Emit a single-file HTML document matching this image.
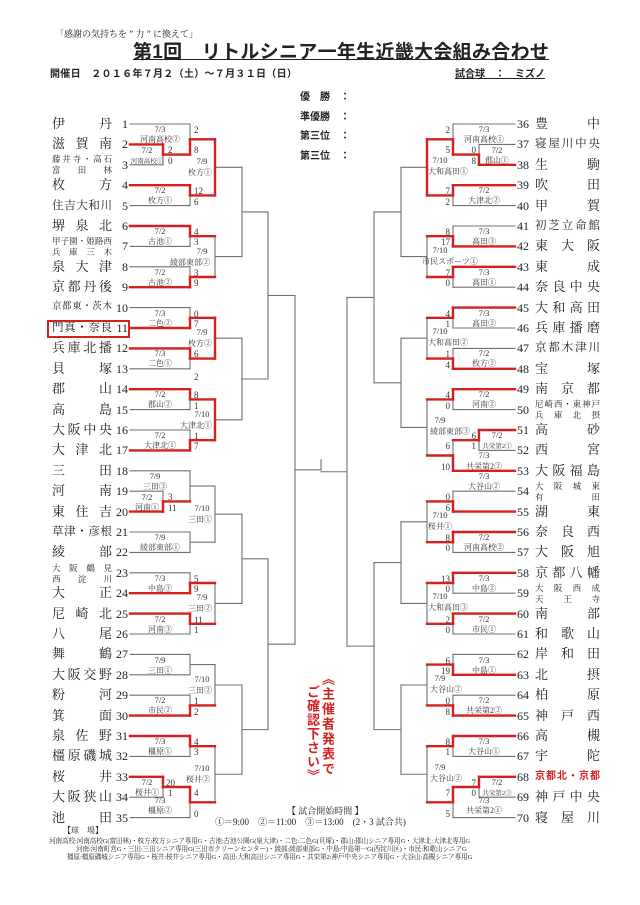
<!DOCTYPE html>
<html><head><meta charset="utf-8">
<style>
body{margin:0;background:#fff;}
#w{position:relative;width:640px;height:905px;overflow:hidden;background:#fff;font-family:"Liberation Serif","Noto Serif CJK SC",serif;color:#222;}
.a{position:absolute;white-space:nowrap;}
.n{position:absolute;width:60px;height:16px;font-size:13px;line-height:16px;text-align:justify;text-align-last:justify;white-space:nowrap;overflow:visible;}
.f5{font-size:11.5px;}
.n2{position:absolute;width:60px;font-size:8.5px;line-height:11px;text-align:justify;text-align-last:justify;}
.rn{left:535px;width:65px;}
.num{position:absolute;font-size:12px;line-height:16px;}
.ln{left:108px;width:20px;text-align:right;}
.rnum{left:517px;}
svg text{font-family:"Liberation Serif","Noto Serif CJK SC",serif;fill:#333;}
.d{font-size:8.5px;text-anchor:middle;}
.v{font-size:8px;text-anchor:middle;}
.vs{font-size:6.5px;text-anchor:middle;}
.s{font-size:9px;}
.se{font-size:9px;text-anchor:end;}
.g{font-family:"Liberation Sans","Noto Sans CJK JP",sans-serif;}
</style></head><body><div id="w">
<div class="a" style="left:55px;top:27px;font-size:9px;">「感謝の気持ちを ” 力 ” に換えて」</div>
<div class="a g" style="left:133px;top:37px;font-size:19px;font-weight:bold;text-decoration:underline;letter-spacing:0.3px;">第1回　リトルシニア一年生近畿大会組み合わせ</div>
<div class="a g" style="left:50px;top:65px;font-size:10px;font-weight:bold;letter-spacing:0.3px;">開催日　２０１６年７月２（土）～７月３１日（日）</div>
<div class="a g" style="left:455px;top:65px;font-size:10px;font-weight:bold;text-decoration:underline;">試合球　：　ミズノ</div>
<div class="a g" style="left:300px;top:88px;font-size:10px;font-weight:bold;">優　勝　：</div>
<div class="a g" style="left:300px;top:108px;font-size:10px;font-weight:bold;">準優勝　：</div>
<div class="a g" style="left:300px;top:127px;font-size:10px;font-weight:bold;">第三位　：</div>
<div class="a g" style="left:300px;top:147px;font-size:10px;font-weight:bold;">第三位　：</div>

<!-- left names -->
<div class="n" style="left:52px;top:116px">伊丹</div><div class="num ln" style="top:116px">1</div>
<div class="n" style="left:52px;top:136px">滋賀南</div><div class="num ln" style="top:136px">2</div>
<div class="n2" style="left:52px;top:154px">藤井寺・高石<br>富田林</div><div class="num ln" style="top:157px">3</div>
<div class="n" style="left:52px;top:177px">枚方</div><div class="num ln" style="top:177px">4</div>
<div class="n f5" style="left:52px;top:198px">住吉大和川</div><div class="num ln" style="top:198px">5</div>
<div class="n" style="left:52px;top:218px">堺泉北</div><div class="num ln" style="top:218px">6</div>
<div class="n2" style="left:52px;top:236px">甲子園・姫路西<br>兵庫三木</div><div class="num ln" style="top:238px">7</div>
<div class="n" style="left:52px;top:259px">泉大津</div><div class="num ln" style="top:259px">8</div>
<div class="n" style="left:52px;top:279px">京都丹後</div><div class="num ln" style="top:279px">9</div>
<div class="n2" style="left:52px;top:302px;font-size:9.5px">京都東・茨木</div><div class="num ln" style="top:300px">10</div>
<div class="n f5" style="left:52px;top:320px">門真・奈良</div><div class="num ln" style="top:320px">11</div>
<div class="a" style="left:47px;top:320px;width:79px;height:14px;border:2px solid #d52020;"></div>
<div class="n" style="left:52px;top:340px">兵庫北播</div><div class="num ln" style="top:340px">12</div>
<div class="n" style="left:52px;top:361px">貝塚</div><div class="num ln" style="top:361px">13</div>
<div class="n" style="left:52px;top:381px">郡山</div><div class="num ln" style="top:381px">14</div>
<div class="n" style="left:52px;top:402px">高島</div><div class="num ln" style="top:402px">15</div>
<div class="n" style="left:52px;top:422px">大阪中央</div><div class="num ln" style="top:422px">16</div>
<div class="n" style="left:52px;top:442px">大津北</div><div class="num ln" style="top:442px">17</div>
<div class="n" style="left:52px;top:463px">三田</div><div class="num ln" style="top:463px">18</div>
<div class="n" style="left:52px;top:483px">河南</div><div class="num ln" style="top:483px">19</div>
<div class="n" style="left:52px;top:504px">東住吉</div><div class="num ln" style="top:504px">20</div>
<div class="n f5" style="left:52px;top:524px">草津・彦根</div><div class="num ln" style="top:524px">21</div>
<div class="n" style="left:52px;top:544px">綾部</div><div class="num ln" style="top:544px">22</div>
<div class="n2" style="left:52px;top:563px">大阪鶴見<br>西淀川</div><div class="num ln" style="top:565px">23</div>
<div class="n" style="left:52px;top:585px">大正</div><div class="num ln" style="top:585px">24</div>
<div class="n" style="left:52px;top:606px">尼崎北</div><div class="num ln" style="top:606px">25</div>
<div class="n" style="left:52px;top:626px">八尾</div><div class="num ln" style="top:626px">26</div>
<div class="n" style="left:52px;top:646px">舞鶴</div><div class="num ln" style="top:646px">27</div>
<div class="n" style="left:52px;top:667px">大阪交野</div><div class="num ln" style="top:667px">28</div>
<div class="n" style="left:52px;top:687px">粉河</div><div class="num ln" style="top:687px">29</div>
<div class="n" style="left:52px;top:708px">箕面</div><div class="num ln" style="top:708px">30</div>
<div class="n" style="left:52px;top:728px">泉佐野</div><div class="num ln" style="top:728px">31</div>
<div class="n" style="left:52px;top:748px">橿原磯城</div><div class="num ln" style="top:748px">32</div>
<div class="n" style="left:52px;top:769px">桜井</div><div class="num ln" style="top:769px">33</div>
<div class="n" style="left:52px;top:789px">大阪狭山</div><div class="num ln" style="top:789px">34</div>
<div class="n" style="left:52px;top:810px">池田</div><div class="num ln" style="top:810px">35</div>

<!-- right names -->
<div class="num rnum" style="top:116px">36</div><div class="n rn" style="top:116px">豊中</div>
<div class="num rnum" style="top:136px">37</div><div class="n rn f5" style="top:136px">寝屋川中央</div>
<div class="num rnum" style="top:157px">38</div><div class="n rn" style="top:157px">生駒</div>
<div class="num rnum" style="top:177px">39</div><div class="n rn" style="top:177px">吹田</div>
<div class="num rnum" style="top:198px">40</div><div class="n rn" style="top:198px">甲賀</div>
<div class="num rnum" style="top:218px">41</div><div class="n rn f5" style="top:218px">初芝立命館</div>
<div class="num rnum" style="top:238px">42</div><div class="n rn" style="top:238px">東大阪</div>
<div class="num rnum" style="top:259px">43</div><div class="n rn" style="top:259px">東成</div>
<div class="num rnum" style="top:279px">44</div><div class="n rn" style="top:279px">奈良中央</div>
<div class="num rnum" style="top:300px">45</div><div class="n rn" style="top:300px">大和高田</div>
<div class="num rnum" style="top:320px">46</div><div class="n rn" style="top:320px">兵庫播磨</div>
<div class="num rnum" style="top:340px">47</div><div class="n rn f5" style="top:340px">京都木津川</div>
<div class="num rnum" style="top:361px">48</div><div class="n rn" style="top:361px">宝塚</div>
<div class="num rnum" style="top:381px">49</div><div class="n rn" style="top:381px">南京都</div>
<div class="num rnum" style="top:402px">50</div><div class="n2 rn" style="top:399px">尼崎西・東神戸<br>兵庫北摂</div>
<div class="num rnum" style="top:422px">51</div><div class="n rn" style="top:422px">高砂</div>
<div class="num rnum" style="top:442px">52</div><div class="n rn" style="top:442px">西宮</div>
<div class="num rnum" style="top:463px">53</div><div class="n rn" style="top:463px">大阪福島</div>
<div class="num rnum" style="top:483px">54</div><div class="n2 rn" style="top:481px">大阪城東<br>有田</div>
<div class="num rnum" style="top:504px">55</div><div class="n rn" style="top:504px">湖東</div>
<div class="num rnum" style="top:524px">56</div><div class="n rn" style="top:524px">奈良西</div>
<div class="num rnum" style="top:544px">57</div><div class="n rn" style="top:544px">大阪旭</div>
<div class="num rnum" style="top:565px">58</div><div class="n rn" style="top:565px">京都八幡</div>
<div class="num rnum" style="top:585px">59</div><div class="n2 rn" style="top:583px">大阪西成<br>天王寺</div>
<div class="num rnum" style="top:606px">60</div><div class="n rn" style="top:606px">南部</div>
<div class="num rnum" style="top:626px">61</div><div class="n rn" style="top:626px">和歌山</div>
<div class="num rnum" style="top:646px">62</div><div class="n rn" style="top:646px">岸和田</div>
<div class="num rnum" style="top:667px">63</div><div class="n rn" style="top:667px">北摂</div>
<div class="num rnum" style="top:687px">64</div><div class="n rn" style="top:687px">柏原</div>
<div class="num rnum" style="top:708px">65</div><div class="n rn" style="top:708px">神戸西</div>
<div class="num rnum" style="top:728px">66</div><div class="n rn" style="top:728px">高槻</div>
<div class="num rnum" style="top:748px">67</div><div class="n rn" style="top:748px">宇陀</div>
<div class="num rnum" style="top:769px">68</div><div class="n rn g" style="top:769px;font-size:10px;font-weight:bold;color:#d52020">京都北・京都</div>
<div class="num rnum" style="top:789px">69</div><div class="n rn" style="top:789px">神戸中央</div>
<div class="num rnum" style="top:810px">70</div><div class="n rn" style="top:810px">寝屋川</div>

<svg id="s" width="640" height="905" style="position:absolute;left:0;top:0">
<g id="lines"></g>
<text class="d" x="160" y="132">7/3</text><text class="v" x="160" y="142">河南高校②</text>
<text class="d" x="147" y="153">7/2</text><text class="vs" x="147" y="163">河南高校①</text>
<text class="d" x="160" y="193">7/2</text><text class="v" x="160" y="203">枚方①</text>
<text class="d" x="160" y="234">7/2</text><text class="v" x="160" y="244">古池①</text>
<text class="d" x="160" y="275">7/2</text><text class="v" x="160" y="285">古池②</text>
<text class="d" x="160" y="316">7/3</text><text class="v" x="160" y="326">二色②</text>
<text class="d" x="160" y="356">7/3</text><text class="v" x="160" y="366">二色①</text>
<text class="d" x="160" y="397">7/2</text><text class="v" x="160" y="407">郡山②</text>
<text class="d" x="160" y="438">7/2</text><text class="v" x="160" y="448">大津北①</text>
<text class="d" x="155" y="479">7/9</text><text class="v" x="155" y="489">三田③</text>
<text class="d" x="147" y="500">7/2</text><text class="v" x="147" y="510">河南①</text>
<text class="d" x="160" y="540">7/9</text><text class="v" x="160" y="550">綾部東部①</text>
<text class="d" x="160" y="581">7/3</text><text class="v" x="160" y="591">中島③</text>
<text class="d" x="160" y="622">7/2</text><text class="v" x="160" y="632">河南③</text>
<text class="d" x="160" y="663">7/9</text><text class="v" x="160" y="673">三田①</text>
<text class="d" x="160" y="703">7/2</text><text class="v" x="160" y="713">市民②</text>
<text class="d" x="160" y="744">7/3</text><text class="v" x="160" y="754">橿原①</text>
<text class="d" x="147" y="785">7/2</text><text class="v" x="147" y="795">桜井①</text>
<text class="d" x="160" y="803">7/3</text><text class="v" x="160" y="813">橿原②</text>
<text class="s" x="194" y="133">2</text><text class="s" x="194" y="153">8</text>
<text class="s" x="168" y="153">2</text><text class="s" x="168" y="164">0</text>
<text class="s" x="194" y="194">12</text><text class="s" x="194" y="205">6</text>
<text class="s" x="194" y="235">4</text><text class="s" x="194" y="245">3</text>
<text class="s" x="194" y="276">3</text><text class="s" x="194" y="286">9</text>
<text class="s" x="194" y="317">0</text><text class="s" x="194" y="327">7</text>
<text class="s" x="194" y="357">6</text><text class="s" x="194" y="380">2</text>
<text class="s" x="194" y="398">8</text><text class="s" x="194" y="409">1</text>
<text class="s" x="194" y="439">1</text><text class="s" x="194" y="449">7</text>
<text class="s" x="168" y="500">3</text><text class="s" x="168" y="511">11</text>
<text class="s" x="194" y="582">5</text><text class="s" x="194" y="592">9</text>
<text class="s" x="194" y="623">11</text><text class="s" x="194" y="633">1</text>
<text class="s" x="194" y="704">1</text><text class="s" x="194" y="715">2</text>
<text class="s" x="194" y="745">4</text><text class="s" x="194" y="755">3</text>
<text class="s" x="166" y="786">20</text><text class="s" x="168" y="796">1</text>
<text class="s" x="194" y="796">4</text><text class="s" x="194" y="817">0</text>
<text class="d" x="202" y="164">7/9</text><text class="v" x="200" y="175">枚方①</text>
<text class="d" x="202" y="254">7/9</text><text class="v" x="190" y="265">綾部東部②</text>
<text class="d" x="202" y="335">7/9</text><text class="v" x="200" y="346">枚方②</text>
<text class="d" x="202" y="417">7/10</text><text class="v" x="196" y="428">大津北①</text>
<text class="d" x="202" y="511">7/10</text><text class="v" x="200" y="522">三田①</text>
<text class="d" x="202" y="600">7/9</text><text class="v" x="200" y="611">三田②</text>
<text class="d" x="202" y="682">7/10</text><text class="v" x="200" y="693">三田②</text>
<text class="d" x="202" y="771">7/10</text><text class="v" x="198" y="782">桜井②</text>
<text class="d" x="484" y="132">7/3</text><text class="v" x="484" y="142">河南高校①</text>
<text class="d" x="497" y="153">7/2</text><text class="v" x="497" y="163">郡山①</text>
<text class="d" x="484" y="193">7/2</text><text class="v" x="484" y="203">大津北②</text>
<text class="d" x="484" y="234">7/3</text><text class="v" x="484" y="244">高田③</text>
<text class="d" x="484" y="275">7/3</text><text class="v" x="484" y="285">高田①</text>
<text class="d" x="484" y="316">7/3</text><text class="v" x="484" y="326">高田②</text>
<text class="d" x="484" y="356">7/2</text><text class="v" x="484" y="366">枚方②</text>
<text class="d" x="484" y="397">7/2</text><text class="v" x="484" y="407">河南②</text>
<text class="d" x="497" y="438">7/2</text><text class="vs" x="497" y="448">共栄第2①</text>
<text class="d" x="484" y="458">7/3</text><text class="v" x="484" y="469">共栄第2②</text>
<text class="d" x="484" y="479">7/3</text><text class="v" x="484" y="489">大谷山②</text>
<text class="d" x="484" y="540">7/2</text><text class="v" x="484" y="550">河南高校②</text>
<text class="d" x="484" y="581">7/3</text><text class="v" x="484" y="591">中島②</text>
<text class="d" x="484" y="622">7/2</text><text class="v" x="484" y="632">市民①</text>
<text class="d" x="484" y="663">7/3</text><text class="v" x="484" y="673">中島①</text>
<text class="d" x="484" y="703">7/2</text><text class="v" x="484" y="713">共栄第2②</text>
<text class="d" x="484" y="744">7/3</text><text class="v" x="484" y="754">大谷山①</text>
<text class="d" x="497" y="785">7/2</text><text class="vs" x="497" y="795">共栄第2③</text>
<text class="d" x="484" y="803">7/3</text><text class="v" x="484" y="813">共栄第2①</text>
<text class="se" x="450" y="133">2</text><text class="se" x="450" y="153">5</text>
<text class="se" x="476" y="153">0</text><text class="se" x="476" y="164">8</text>
<text class="se" x="450" y="194">7</text><text class="se" x="450" y="205">2</text>
<text class="se" x="450" y="235">8</text><text class="se" x="450" y="245">17</text>
<text class="se" x="450" y="276">7</text><text class="se" x="450" y="286">0</text>
<text class="se" x="450" y="317">4</text><text class="se" x="450" y="327">1</text>
<text class="se" x="450" y="357">1</text><text class="se" x="450" y="368">4</text>
<text class="se" x="450" y="398">4</text><text class="se" x="450" y="409">0</text>
<text class="se" x="476" y="439">6</text><text class="se" x="476" y="449">1</text>
<text class="se" x="450" y="449">6</text><text class="se" x="450" y="470">10</text>
<text class="se" x="450" y="500">0</text><text class="se" x="450" y="511">6</text>
<text class="se" x="450" y="541">8</text><text class="se" x="450" y="551">0</text>
<text class="se" x="450" y="582">13</text><text class="se" x="450" y="592">0</text>
<text class="se" x="450" y="623">2</text><text class="se" x="450" y="633">0</text>
<text class="se" x="450" y="664">6</text><text class="se" x="450" y="674">19</text>
<text class="se" x="450" y="704">0</text><text class="se" x="450" y="715">8</text>
<text class="se" x="450" y="745">8</text><text class="se" x="450" y="755">1</text>
<text class="se" x="476" y="786">7</text><text class="se" x="476" y="796">0</text>
<text class="se" x="450" y="796">7</text><text class="se" x="450" y="817">5</text>
<text class="d" x="440" y="163">7/10</text><text class="v" x="448" y="174">大和高田①</text>
<text class="d" x="440" y="253">7/10</text><text class="v" x="450" y="264">市民スポーツ①</text>
<text class="d" x="440" y="334">7/10</text><text class="v" x="448" y="345">大和高田②</text>
<text class="d" x="440" y="423">7/9</text><text class="v" x="450" y="434">綾部東部③</text>
<text class="d" x="440" y="518">7/10</text><text class="v" x="440" y="529">桜井①</text>
<text class="d" x="440" y="599">7/10</text><text class="v" x="448" y="610">大和高田③</text>
<text class="d" x="440" y="681">7/9</text><text class="v" x="446" y="692">大谷山②</text>
<text class="d" x="440" y="770">7/9</text><text class="v" x="446" y="781">大谷山②</text>
</svg>

<div class="a g" style="left:320px;top:672px;writing-mode:vertical-rl;font-size:13px;line-height:15px;font-weight:bold;color:#d52020;letter-spacing:2px;">《主催者発表で</div>
<div class="a g" style="left:305px;top:685px;writing-mode:vertical-rl;font-size:13px;line-height:15px;font-weight:bold;color:#d52020;letter-spacing:1px;">ご確認下さい》</div>

<div class="a" style="left:287px;top:804px;font-size:9px;">【 試合開始時間 】</div>
<div class="a" style="left:215px;top:815px;font-size:9px;">①＝9:00　②＝11:00　③＝13:00　(2・3 試合共)</div>
<div class="a" style="left:63px;top:825px;font-size:8px;">【球　場】</div>
<div class="a" style="left:49px;top:835px;font-size:6.6px;letter-spacing:-0.1px;">河南高校:河南高校G(富田林)・枚方:枚方シニア専用G・古池:古池公園G(泉大津)・二色:二色G(貝塚)・郡山:郡山シニア専用G・大津北:大津北専用G</div>
<div class="a" style="left:76px;top:843px;font-size:6.6px;letter-spacing:-0.1px;">河南:河南町営G・三田:三田シニア専用G(三田市クリーンセンター)・綾部:綾部東部G・中島:中島第一G(西淀川区)・市民:和歌山シニアG</div>
<div class="a" style="left:67px;top:851px;font-size:6.6px;letter-spacing:-0.1px;">橿原:橿原磯城シニア専用G・桜井:桜井シニア専用G・高田:大和高田シニア専用G・共栄第2:神戸中央シニア専用G・大谷山:高槻シニア専用G</div>

<script>
(function(){
var Y=function(i){return 124+(i-1)*20.4;};
var g=document.getElementById('lines'),NS='http://www.w3.org/2000/svg';
var gray=[],red=[];
function L(a,b,c,d,r){(r?red:gray).push([a,b,c,d]);}
function side(X,R1,winners,preW,fullRed){
  function yo(e){return typeof e==='number'?Y(e):(Y(e[0])+Y(e[1]))/2;}
  var m1=[],pi=0;
  R1.forEach(function(p,k){
    p.forEach(function(e){
      if(typeof e==='number'){L(X.t,Y(e),X.r1,Y(e));}
      else{
        L(X.t,Y(e[0]),X.pre,Y(e[0]));L(X.t,Y(e[1]),X.pre,Y(e[1]));
        L(X.pre,Y(e[0]),X.pre,Y(e[1]));var pm=yo(e);L(X.pre,pm,X.r1,pm);
        var w=e[preW[pi++]==='a'?0:1];
        L(X.t,Y(w),X.pre,Y(w),1);L(X.pre,Y(w),X.pre,pm,1);L(X.pre,pm,X.r1,pm,1);
      }
    });
    var ya=yo(p[0]),yb=yo(p[1]),m=(ya+yb)/2;m1.push(m);
    L(X.r1,ya,X.r1,yb);L(X.r1,m,X.r2,m);
    var w=winners[k];
    if(w){var e=w==='a'?p[0]:p[1],ye=yo(e);
      if(typeof e==='number')L(X.t,ye,X.r1,ye,1);
      L(X.r1,ye,X.r1,m,1);L(X.r1,m,X.r2,m,1);}
  });
  var m2=[];
  for(var k=0;k<8;k++){var a=m1[2*k],b=m1[2*k+1],m=(a+b)/2;m2.push(m);
    L(X.r2,a,X.r2,b,fullRed.indexOf(k)>=0);L(X.r2,m,X.r3,m);}
  var m3=[];
  for(k=0;k<4;k++){a=m2[2*k];b=m2[2*k+1];m=(a+b)/2;m3.push(m);L(X.r3,a,X.r3,b);L(X.r3,m,X.r4,m);}
  var m4=[];
  for(k=0;k<2;k++){a=m3[2*k];b=m3[2*k+1];m=(a+b)/2;m4.push(m);L(X.r4,a,X.r4,b);L(X.r4,m,X.r5,m);}
  L(X.r5,m4[0],X.r5,m4[1]);var m5=(m4[0]+m4[1])/2;L(X.r5,m5,321,m5);
  return m5;
}
var m5=side({t:130,pre:163,r1:190,r2:215,r3:242,r4:268,r5:295},
 [[1,[2,3]],[4,5],[6,7],[8,9],[10,11],[12,13],[14,15],[16,17],[18,[19,20]],[21,22],[23,24],[25,26],[27,28],[29,30],[31,32],[[33,34],35]],
 ['b','a','a','b','b','a','a','b',null,null,'b','a',null,'b','a','a'],['a','b','a'],[0,2,3]);
side({t:515,pre:479,r1:453,r2:427,r3:401,r4:374,r5:347},
 [[1,[2,3]],[4,5],[6,7],[8,9],[10,11],[12,13],[14,15],[[16,17],18],[19,20],[21,22],[23,24],[25,26],[27,28],[29,30],[31,32],[[33,34],35]],
 ['b','a','b','a','a','b','a','b','b','a','a','a','b','b','a','a'],['b','a','a'],[0]);
L(321,m5-10,321,m5);
function draw(arr,c,w){arr.forEach(function(l){var e=document.createElementNS(NS,'line');
 e.setAttribute('x1',l[0]);e.setAttribute('y1',l[1]);e.setAttribute('x2',l[2]);e.setAttribute('y2',l[3]);
 e.setAttribute('stroke',c);e.setAttribute('stroke-width',w);e.setAttribute('stroke-linecap','square');g.appendChild(e);});}
draw(gray,'#707070',1.1);draw(red,'#d42020',2.4);
})();
</script>
</div></body></html>
